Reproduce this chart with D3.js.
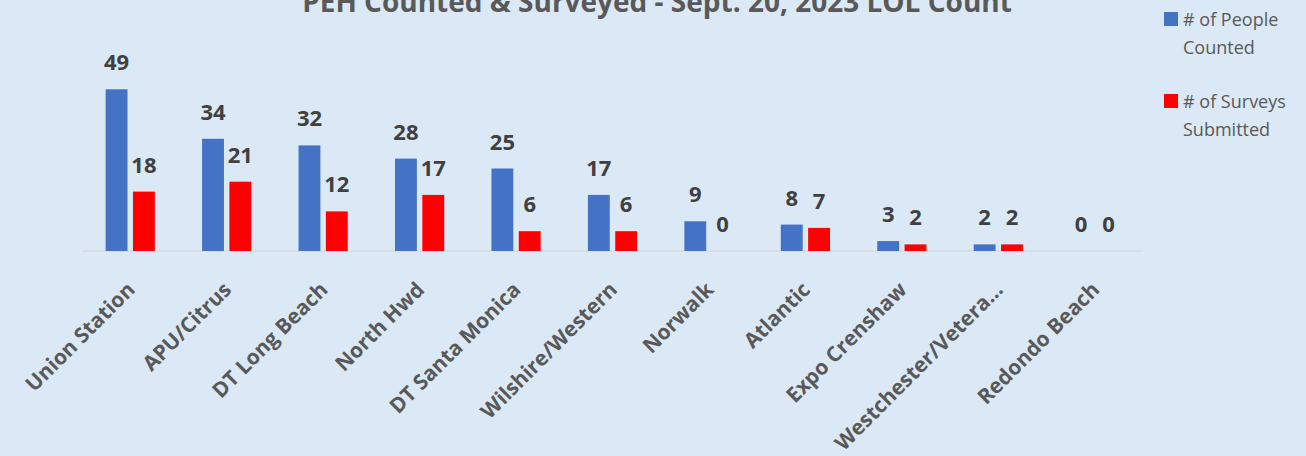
<!DOCTYPE html>
<html>
<head>
<meta charset="utf-8">
<script src="https://cdn.jsdelivr.net/npm/d3@7"></script>
<style>
  body { margin: 0; background: #dbe8f5; }
  svg { display: block; }
</style>
</head>
<body>
<svg id="grafico" width="1306" height="456"></svg>
<script>
// datos
var categorias = ["Union Station", "APU/Citrus", "DT Long Beach", "North Hwd", "DT Santa Monica",
    "Wilshire/Western", "Norwalk", "Atlantic", "Expo Crenshaw", "Westchester/Vetera...", "Redondo Beach"];
var series = ["# of People Counted", "# of Surveys Submitted"];
var contados = [49, 34, 32, 28, 25, 17, 9, 8, 3, 2, 0];
var encuestas = [18, 21, 12, 17, 6, 6, 0, 7, 2, 2, 0];
var colores = ["#4472c4", "#ff0000"];

var svg = d3.select('#grafico'),
    baseY = 251;

svg.append("rect")
    .attr("width", 1306)
    .attr("height", 456)
    .attr("fill", "#dbe8f5");

/* Titulo */
svg.append("text")
    .attr("x", 657)
    .attr("y", 12)
    .attr("text-anchor", "middle")
    .attr("font-family", "Open Sans")
    .attr("font-weight", "bold")
    .attr("font-size", "28px")
    .attr("fill", "#595959")
    .text("PEH Counted & Surveyed - Sept. 20, 2023 LOL Count");

var x0 = d3.scaleBand().domain(categorias).range([82, 1143]).paddingInner(0.49).paddingOuter(0.245),
    x1 = d3.scaleBand().domain(series).range([0, x0.bandwidth()]).paddingInner(0.2).paddingOuter(0),
    yScale = d3.scaleLinear().domain([0, 60]).range([baseY, baseY - 198]);

var datos = categorias.map(function(c, i){
    return {cat: c, valores: [
        {serie: series[0], v: contados[i], color: colores[0]},
        {serie: series[1], v: encuestas[i], color: colores[1]}
    ]};
});

// linea base
svg.append("line")
    .attr("x1", 82).attr("x2", 1143)
    .attr("y1", baseY).attr("y2", baseY)
    .attr("stroke", "#d9d9d9")
    .attr("stroke-width", 1.5);

var grupos = svg.selectAll(".grupo")
    .data(datos)
    .enter().append("g")
    .attr("class", "grupo")
    .attr("transform", function(d){ return "translate(" + x0(d.cat) + ",0)"; });

grupos.selectAll("rect")
    .data(function(d){ return d.valores; })
    .enter().append("rect")
    .attr("x", function(d){ return x1(d.serie); })
    .attr("y", function(d){ return yScale(d.v); })
    .attr("width", x1.bandwidth())
    .attr("height", function(d){ return baseY - yScale(d.v); })
    .attr("fill", function(d){ return d.color; });

grupos.selectAll(".valor")
    .data(function(d){ return d.valores; })
    .enter().append("text")
    .attr("class", "valor")
    .attr("x", function(d){ return x1(d.serie) + x1.bandwidth() / 2; })
    .attr("y", function(d){ return yScale(d.v) - 19; })
    .attr("text-anchor", "middle")
    .attr("font-family", "Open Sans")
    .attr("font-weight", "bold")
    .attr("font-size", "22px")
    .attr("fill", "#404040")
    .text(function(d){ return d.v; });

// etiquetas del eje x
svg.selectAll(".etiqueta")
    .data(categorias)
    .enter().append("text")
    .attr("class", "etiqueta")
    .attr("transform", function(d){
        var cx = x0(d) + x0.bandwidth() / 2 + 6;
        return "translate(" + cx + ",291) rotate(-45)";
    })
    .attr("text-anchor", "end")
    .attr("font-family", "Open Sans")
    .attr("font-weight", "bold")
    .attr("font-size", "21px")
    .attr("fill", "#595959")
    .text(function(d){ return d; });

/* Leyenda */
var leyendaTextos = [["# of People", "Counted"], ["# of Surveys", "Submitted"]];
var leyenda = svg.selectAll(".leyenda")
    .data(series)
    .enter().append("g")
    .attr("class", "leyenda")
    .attr("transform", function(d, i){ return "translate(1164," + (12 + i * 82) + ")"; });

leyenda.append("rect")
    .attr("width", 14)
    .attr("height", 14)
    .attr("fill", function(d, i){ return colores[i]; });

leyenda.append("text")
    .attr("font-family", "Open Sans")
    .attr("font-size", "18px")
    .attr("fill", "#595959")
    .selectAll("tspan")
    .data(function(d, i){ return leyendaTextos[i]; })
    .enter().append("tspan")
    .attr("x", 19)
    .attr("y", function(d, j){ return 14 + j * 27.5; })
    .text(function(d){ return d; });
</script>
</body>
</html>
